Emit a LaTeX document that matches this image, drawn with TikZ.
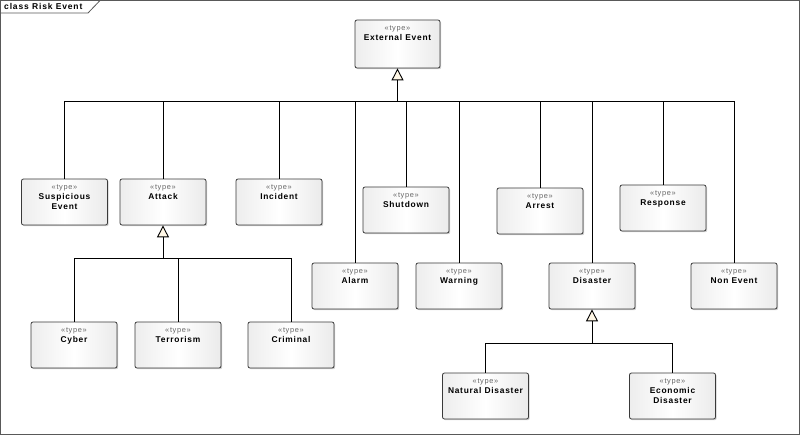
\documentclass[tikz,border=0pt]{standalone}
\usepackage{fontspec}
\setmainfont{Liberation Sans}
\usetikzlibrary{arrows.meta,shadows}
\definecolor{cream}{HTML}{FFF7E6}
\definecolor{edge}{HTML}{3A3A3A}
\tikzset{
  tbox/.style={draw=edge, line width=0.8pt, rounded corners=2pt, minimum width=86pt, minimum height=46pt, inner sep=0pt,
    left color=gray!14, right color=gray!16, middle color=white,
    drop shadow={shadow xshift=1.2pt, shadow yshift=-1.2pt, fill=gray!45, opacity=0.8}},
  tlbl/.style={align=center, inner sep=0pt, font=\fontsize{8.4}{10}\selectfont\bfseries\addfontfeature{LetterSpace=9}},
  conn/.style={draw=black, line width=0.9pt},
  gen/.style={conn, -{Triangle[length=12pt,width=12pt,fill=cream]}},
}
\newcommand\stereo{{\fontsize{7.4}{8}\selectfont\mdseries\color{black!60}«type»}}
\begin{document}
\begin{tikzpicture}[x=1pt,y=-1pt]
\useasboundingbox (0,0) rectangle (800,435);
\draw[draw=gray!70!black, line width=1pt] (0.5,0.5) rectangle (799.5,434.5);
\draw[draw=gray!70!black, line width=0.8pt] (0.5,13) -- (88,13) -- (100,0.5);
\node[anchor=west, inner sep=0pt, font=\fontsize{8.5}{9}\selectfont\bfseries\addfontfeature{LetterSpace=10}] (title) at (4,6.5) {class Risk Event};
% boxes
\node[tbox, minimum width=85pt, minimum height=48pt] (ext) at (397.5,44) {};
\node[tbox] (susp) at (64.5,202) {};
\node[tbox] (attack) at (163,202) {};
\node[tbox] (incident) at (279,202) {};
\node[tbox] (shutdown) at (406,210) {};
\node[tbox] (arrest) at (540,211) {};
\node[tbox] (response) at (663,208) {};
\node[tbox] (alarm) at (355,286) {};
\node[tbox] (warning) at (459,286) {};
\node[tbox] (disaster) at (592,286) {};
\node[tbox] (nonevent) at (734,286) {};
\node[tbox] (cyber) at (74,345) {};
\node[tbox] (terror) at (178,345) {};
\node[tbox] (criminal) at (291,345) {};
\node[tbox] (natural) at (485.5,396) {};
\node[tbox] (economic) at (672.5,396) {};
% labels
\node[tlbl,anchor=north] (ext-t) at ([yshift=-5.5pt]ext.north) {\stereo\\External Event};
\node[tlbl,anchor=north] (susp-t) at ([yshift=-5.5pt]susp.north) {\stereo\\Suspicious\\Event};
\node[tlbl,anchor=north] (attack-t) at ([yshift=-5.5pt]attack.north) {\stereo\\Attack};
\node[tlbl,anchor=north] (incident-t) at ([yshift=-5.5pt]incident.north) {\stereo\\Incident};
\node[tlbl,anchor=north] (shutdown-t) at ([yshift=-5.5pt]shutdown.north) {\stereo\\Shutdown};
\node[tlbl,anchor=north] (arrest-t) at ([yshift=-5.5pt]arrest.north) {\stereo\\Arrest};
\node[tlbl,anchor=north] (response-t) at ([yshift=-5.5pt]response.north) {\stereo\\Response};
\node[tlbl,anchor=north] (alarm-t) at ([yshift=-5.5pt]alarm.north) {\stereo\\Alarm};
\node[tlbl,anchor=north] (warning-t) at ([yshift=-5.5pt]warning.north) {\stereo\\Warning};
\node[tlbl,anchor=north] (disaster-t) at ([yshift=-5.5pt]disaster.north) {\stereo\\Disaster};
\node[tlbl,anchor=north] (nonevent-t) at ([yshift=-5.5pt]nonevent.north) {\stereo\\Non Event};
\node[tlbl,anchor=north] (cyber-t) at ([yshift=-5.5pt]cyber.north) {\stereo\\Cyber};
\node[tlbl,anchor=north] (terror-t) at ([yshift=-5.5pt]terror.north) {\stereo\\Terrorism};
\node[tlbl,anchor=north] (criminal-t) at ([yshift=-5.5pt]criminal.north) {\stereo\\Criminal};
\node[tlbl,anchor=north] (natural-t) at ([yshift=-5.5pt]natural.north) {\stereo\\Natural Disaster};
\node[tlbl,anchor=north] (economic-t) at ([yshift=-5.5pt]economic.north) {\stereo\\Economic\\Disaster};
% buses
\coordinate (b0) at (397.5,101);
\coordinate (b1) at (163,258);
\coordinate (b2) at (592,343);
\foreach \c in {susp,attack,incident,shutdown,arrest,response,alarm,warning,disaster,nonevent}
  \draw[conn] (\c.north) |- (b0);
\draw[gen] (b0) -- (ext.south);
\foreach \c in {cyber,terror,criminal}
  \draw[conn] (\c.north) |- (b1);
\draw[gen] (b1) -- (attack.south);
\foreach \c in {natural,economic}
  \draw[conn] (\c.north) |- (b2);
\draw[gen] (b2) -- (disaster.south);
\end{tikzpicture}
\end{document}
